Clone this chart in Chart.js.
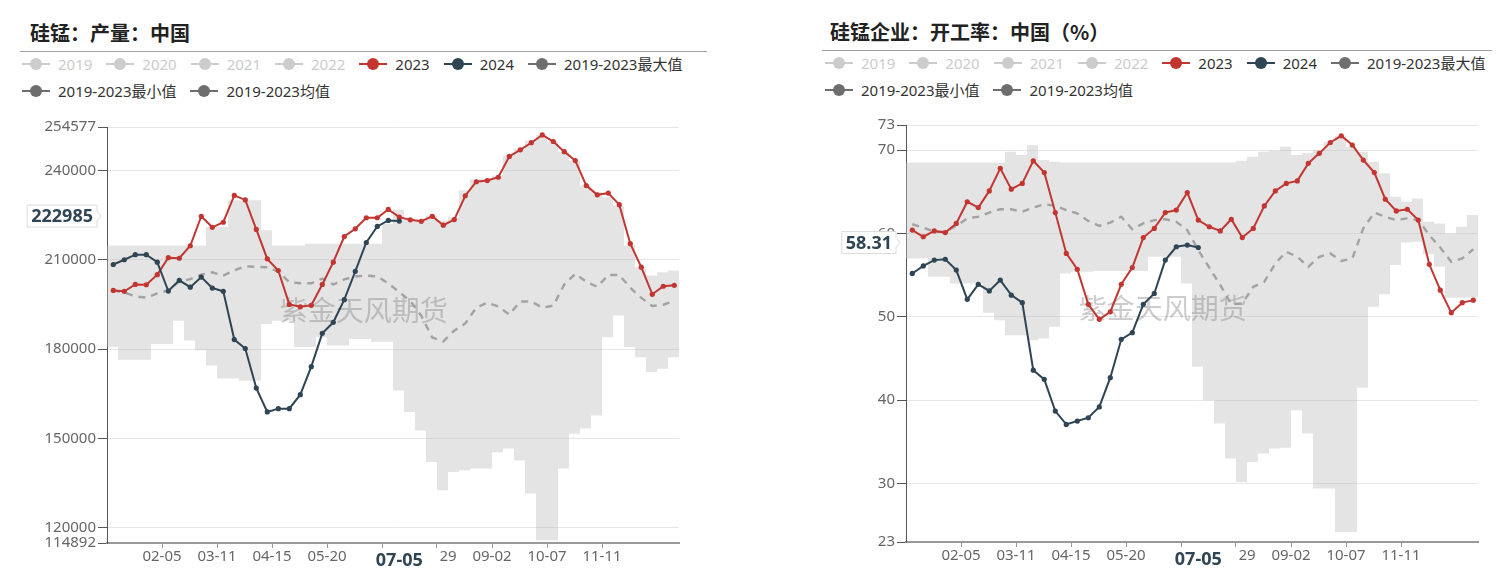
<!DOCTYPE html>
<html>
<head>
<meta charset="utf-8">
<script src="https://cdn.jsdelivr.net/npm/chart.js@4.4.1/dist/chart.umd.min.js"></script>
<style>
  body { margin: 0; background: #fff; font-family: "Noto Sans", "Noto Sans CJK SC", sans-serif; }
  #page { position: relative; width: 1505px; height: 582px; overflow: hidden; }
  .title { position: absolute; font-family: "Noto Sans CJK SC", sans-serif; font-weight: 700; font-size: 20px; line-height: 24px; color: #222; white-space: nowrap; }
  .rule { position: absolute; height: 0; border-top: 1.5px solid #a0a0a0; }
  .legend { position: absolute; display: flex; flex-wrap: wrap; font-size: 15px; }
  .item { display: flex; align-items: center; height: 27px; margin-right: 14px; white-space: nowrap; }
  .item svg { margin-right: 8px; }
  canvas { position: absolute; }
</style>
</head>
<body>
<div id="page">
  <div class="title" style="left:30px;top:21px">硅锰：产量：中国</div>
  <div class="rule" style="left:20px;top:51px;width:687px"></div>
  <div class="legend" id="legendL" style="left:22px;top:50px;width:700px"></div>
  <canvas id="chartL" width="720" height="472" style="left:0;top:110px"></canvas>

  <div class="title" style="left:830px;top:20px">硅锰企业：开工率：中国（%）</div>
  <div class="rule" style="left:822px;top:50px;width:670px"></div>
  <div class="legend" id="legendR" style="left:825px;top:49px;width:680px"></div>
  <canvas id="chartR" width="745" height="472" style="left:760px;top:110px"></canvas>
</div>
<script>
// weekly dates of the 2023 / 2024 series (Fridays)
const weekDates = ['01-05','01-12','01-19','01-26','02-02','02-09','02-16','02-23','03-01','03-08','03-15','03-22','03-29',
  '04-05','04-12','04-19','04-26','05-03','05-10','05-17','05-24','05-31','06-07','06-14','06-21','06-28',
  '07-05','07-12','07-19','07-26','08-02','08-09','08-16','08-23','08-30','09-06','09-13','09-20','09-27',
  '10-04','10-11','10-18','10-25','11-01','11-08','11-15','11-22','11-29','12-06','12-13','12-20','12-27'];

// dates of the 2019-2023 max / min band (Mondays)
const bandDates = ['01-01','01-08','01-15','01-22','01-29','02-05','02-12','02-19','02-26','03-04','03-11','03-18','03-25',
  '04-01','04-08','04-15','04-22','04-29','05-06','05-13','05-20','05-27','06-03','06-10','06-17','06-24',
  '07-01','07-08','07-15','07-22','07-29','08-05','08-12','08-19','08-26','09-02','09-09','09-16','09-23','09-30',
  '10-07','10-14','10-21','10-28','11-04','11-11','11-18','11-25','12-02','12-09','12-16','12-23','12-30'];

const xTickLabels = ['02-05','03-11','04-15','05-20','06-24','07-29','09-02','10-07','11-11'];

const legendNames = ['2019','2020','2021','2022','2023','2024','2019-2023最大值','2019-2023最小值','2019-2023均值'];
const legendColors = ['#ccc','#ccc','#ccc','#ccc','#c23531','#2f4554','#6e6e6e','#6e6e6e','#6e6e6e'];
const legendTextColors = ['#ccc','#ccc','#ccc','#ccc','#333','#333','#333','#333','#333'];

// ---- left: 硅锰产量 ----
const yTicksL = [114892, 120000, 150000, 180000, 210000, 240000, 254577];
const prod2023 = [199700,199400,201700,201600,205000,210700,210500,214700,224600,220900,222600,231600,230100,
  220200,210300,206400,195000,194200,194700,201700,209200,217800,220400,224100,224100,226900,
  224300,223400,222900,224600,221600,223500,231500,236200,236600,237700,244700,246900,249300,
  251900,249700,246300,243300,234900,231800,232400,228500,215400,207500,198400,201100,201400];
const prod2024 = [208400,210000,211700,211700,209200,199500,203100,200800,204200,200500,199400,183200,180200,
  166900,158900,160000,160000,164700,174100,185300,189000,196600,206100,215800,221200,223200,222985];
const prodMean = [199700,199000,197700,197300,198700,199700,202700,203500,205000,205800,204700,206400,207800,
  207600,207500,206000,202500,202100,202100,203700,201700,203400,204400,204700,204400,202100,
  199100,196200,191200,183900,182600,186200,188600,193900,195600,194300,191600,196000,196000,
  193900,194600,201700,205300,202600,200900,204900,204900,200600,197200,194500,194900,196200];
const prodMax = [214800,214800,214800,214800,214800,214800,214800,214800,214800,221000,221000,230000,230000,
  230000,219900,214800,214800,214800,215400,215400,215400,215400,215400,215400,215400,222000,
  226900,223500,223500,224900,223200,224300,233300,237000,237200,238300,245000,247200,250000,251900,
  249700,246300,243300,234900,232700,231000,228200,214800,207500,204700,205800,206400,206400];
const prodMin = [180700,176400,176400,176400,181700,181700,189500,182900,179600,174500,170100,170100,169400,
  169400,188400,189500,189500,180700,180700,184000,181200,181200,183400,183400,182500,182500,
  166100,158900,152700,142100,132600,138700,139300,139900,139900,145400,146600,142600,131500,115800,
  115800,139900,151600,153300,157700,184000,191300,180700,177300,172300,173400,177300,177300];

// ---- right: 硅锰企业开工率 ----
const yTicksR = [23, 30, 40, 50, 60, 70, 73];
const rate2023 = [60.4,59.6,60.3,60.1,61.2,63.8,63.1,65.1,67.8,65.3,66.0,68.7,67.3,
  62.5,57.6,55.7,51.5,49.7,50.6,53.9,55.9,59.5,60.6,62.5,62.8,64.9,
  61.6,60.8,60.3,61.7,59.5,60.6,63.3,65.1,66.0,66.3,68.4,69.6,70.9,
  71.7,70.6,68.8,67.3,64.1,62.7,62.9,61.6,56.3,53.2,50.5,51.7,52.0];
const rate2024 = [55.2,56.1,56.8,56.9,55.6,52.1,53.9,53.1,54.4,52.6,51.7,43.6,42.5,
  38.7,37.1,37.5,37.9,39.2,42.7,47.3,48.1,51.5,52.8,56.8,58.4,58.6,58.31];
const rateMean = [61.1,60.7,60.2,60.2,60.9,61.8,62.0,62.5,62.9,62.9,62.6,63.1,63.5,
  63.3,62.8,62.4,61.5,60.9,61.3,62.0,60.5,61.2,61.6,61.7,61.4,60.4,
  58.0,55.9,53.8,51.5,51.6,53.6,54.2,56.4,57.8,57.2,56.0,57.2,57.6,
  56.7,57.0,60.6,62.5,62.0,61.6,61.8,61.6,59.8,58.3,56.6,57.0,58.1];
const rateMax = [68.5,68.5,68.5,68.5,68.5,68.5,68.5,68.5,68.5,69.8,69.4,70.6,68.8,
  68.6,68.5,68.5,68.5,68.5,68.5,68.5,68.5,68.5,68.5,68.5,68.5,68.5,
  68.5,68.5,68.5,68.5,68.7,69.2,69.8,69.9,70.4,69.4,69.6,70.0,71.0,71.7,
  70.4,69.8,68.6,67.2,64.4,63.8,64.2,61.4,61.2,60.0,60.8,62.2,62.2];
const rateMin = [57.0,57.0,54.8,54.8,54.0,54.0,54.0,50.5,49.6,47.8,47.8,47.2,47.4,
  48.8,55.2,55.4,55.4,55.5,55.5,55.5,55.5,55.5,57.2,57.2,57.2,54.0,
  44.0,40.0,37.2,33.0,30.2,32.6,33.6,34.2,34.3,38.8,36.0,29.4,29.4,24.2,
  24.2,41.5,51.2,52.7,56.2,58.9,59.0,57.5,56.0,52.3,52.3,52.3,52.3];

const FONT = '"Noto Sans", "Noto Sans CJK SC", sans-serif';

function dayOfYear(md) {
    const [m, d] = md.split('-').map(Number);
    return (Date.UTC(2024, m - 1, d) - Date.UTC(2024, 0, 1)) / 86400000;
}

function toPoints(dates, values) {
    return values.map((v, i) => ({ x: dayOfYear(dates[i]), y: v }));
}

function buildLegend(id) {
    const box = document.getElementById(id);
    legendNames.forEach((name, i) => {
        const c = legendColors[i];
        const item = document.createElement('div');
        item.className = 'item';
        item.innerHTML = `<svg width="28" height="14"><line x1="0" y1="7" x2="28" y2="7" stroke="${c}" stroke-width="2"/>` +
            `<circle cx="14" cy="7" r="6" fill="${c}"/></svg><span style="color:${legendTextColors[i]}">${name}</span>`;
        box.appendChild(item);
    });
}

// last 2024 point: crosshair labels on both axes
const pointerPlugin = {
    id: 'pointer',
    afterDraw(chart) {
        const ctx = chart.ctx;
        const area = chart.chartArea;
        const pts = chart.data.datasets[0].data;
        const last = pts[pts.length - 1];
        const px = chart.scales.x.getPixelForValue(last.x);
        const py = chart.scales.y.getPixelForValue(last.y);
        ctx.save();
        ctx.font = 'bold 18px ' + FONT;
        ctx.textBaseline = 'middle';

        // y label
        const ytxt = String(last.y);
        const w = ctx.measureText(ytxt).width + 8;
        const right = area.left - 10;
        const cy = py - 5;
        ctx.beginPath();
        ctx.moveTo(right - w, cy - 11);
        ctx.lineTo(right, cy - 11);
        ctx.lineTo(right, cy - 5);
        ctx.lineTo(right + 4, cy);
        ctx.lineTo(right, cy + 5);
        ctx.lineTo(right, cy + 11);
        ctx.lineTo(right - w, cy + 11);
        ctx.closePath();
        ctx.fillStyle = '#fff';
        ctx.fill();
        ctx.strokeStyle = '#dcdcdc';
        ctx.lineWidth = 1;
        ctx.stroke();
        ctx.fillStyle = '#2f4554';
        ctx.textAlign = 'center';
        ctx.fillText(ytxt, right - w / 2, cy + 1);

        // x label (covers the neighbouring tick labels)
        const xtxt = weekDates[pts.length - 1];
        ctx.fillStyle = '#fff';
        ctx.fillRect(px - 41, area.bottom + 7, 82, 24);
        ctx.fillStyle = '#2f4554';
        ctx.fillText(xtxt, px, area.bottom + 18);
        ctx.restore();
    }
};

const watermarkPlugin = {
    id: 'watermark',
    beforeDatasetDraw(chart, args) {
        if (args.index !== 2) return;
        const a = chart.chartArea;
        const ctx = chart.ctx;
        ctx.save();
        ctx.font = '28px "Noto Sans CJK SC", sans-serif';
        ctx.fillStyle = 'rgba(120,120,120,0.38)';
        ctx.textAlign = 'center';
        ctx.textBaseline = 'middle';
        ctx.fillText('紫金天风期货', a.left + (a.right - a.left) * 0.449, a.top + (a.bottom - a.top) * 0.44);
        ctx.restore();
    }
};

function createChart(id, opts) {
    const lineStyle = (color) => ({
        borderColor: color,
        backgroundColor: color,
        borderWidth: 2,
        pointRadius: 2.6,
        pointBorderWidth: 0,
        pointHoverRadius: 0,
        tension: 0,
        fill: false
    });

    return new Chart(document.getElementById(id), {
        type: 'line',
        data: {
            datasets: [
                { label: '2024', data: toPoints(weekDates, opts.s2024), ...lineStyle('#2f4554') },
                { label: '2023', data: toPoints(weekDates, opts.s2023), ...lineStyle('#c23531') },
                {
                    label: '2019-2023均值', data: toPoints(weekDates, opts.mean),
                    borderColor: '#a2a2a2', borderWidth: 2.4, borderDash: [7, 6],
                    pointRadius: 0, tension: 0, fill: false
                },
                {
                    label: '2019-2023最大值', data: toPoints(bandDates, opts.max),
                    stepped: 'before', borderColor: 'transparent', borderWidth: 0, pointRadius: 0,
                    fill: '+1', backgroundColor: 'rgba(190,190,190,0.42)'
                },
                {
                    label: '2019-2023最小值', data: toPoints(bandDates, opts.min),
                    stepped: 'before', borderColor: 'transparent', borderWidth: 0, pointRadius: 0,
                    fill: false
                }
            ]
        },
        options: {
            responsive: false,
            animation: false,
            events: [],
            layout: { padding: { left: 0, right: opts.padRight, top: opts.padTop, bottom: 0 } },
            plugins: {
                legend: { display: false },
                tooltip: { enabled: false }
            },
            scales: {
                x: {
                    type: 'linear',
                    min: dayOfYear(bandDates[0]),
                    max: dayOfYear(bandDates[bandDates.length - 1]),
                    afterBuildTicks: (scale) => { scale.ticks = xTickLabels.map(l => ({ value: dayOfYear(l) })); },
                    afterFit: (scale) => { scale.height = opts.xHeight; },
                    ticks: {
                        autoSkip: false,
                        maxRotation: 0,
                        padding: 0,
                        color: '#666',
                        font: { family: FONT, size: 15 },
                        callback: (v) => xTickLabels.find(l => dayOfYear(l) === v) || ''
                    },
                    grid: { drawOnChartArea: false, drawTicks: true, tickLength: 5, tickColor: '#999' },
                    border: { color: '#999', width: 2 }
                },
                y: {
                    min: opts.yTicks[0],
                    max: opts.yTicks[opts.yTicks.length - 1],
                    afterBuildTicks: (scale) => { scale.ticks = opts.yTicks.map(v => ({ value: v })); },
                    afterFit: (scale) => { scale.width = opts.yWidth; },
                    ticks: {
                        autoSkip: false,
                        padding: 2,
                        color: '#666',
                        font: { family: FONT, size: 15 },
                        callback: (v) => String(v)
                    },
                    grid: { color: '#e6e6e6', lineWidth: 1, tickLength: 9, tickColor: '#555' },
                    border: { color: '#555', width: 1 }
                }
            }
        },
        plugins: [watermarkPlugin, pointerPlugin]
    });
}

buildLegend('legendL');
buildLegend('legendR');

createChart('chartL', {
    s2023: prod2023, s2024: prod2024, mean: prodMean, max: prodMax, min: prodMin,
    yTicks: yTicksL, yWidth: 107, padRight: 41, padTop: 17, xHeight: 39
});

createChart('chartR', {
    s2023: rate2023, s2024: rate2024, mean: rateMean, max: rateMax, min: rateMin,
    yTicks: yTicksR, yWidth: 146, padRight: 27, padTop: 15, xHeight: 40
});
</script>
</body>
</html>
